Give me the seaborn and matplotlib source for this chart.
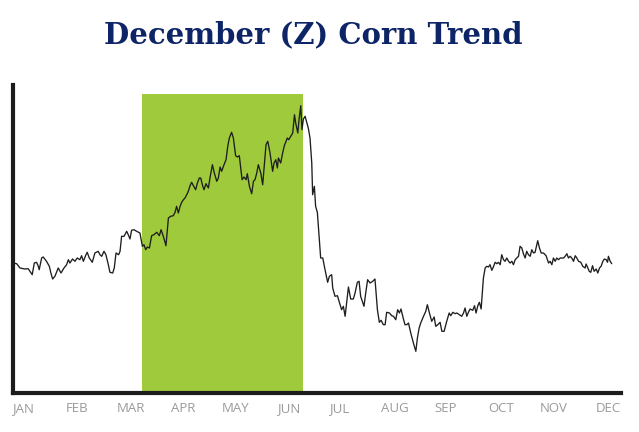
import numpy as np
import pandas as pd
import seaborn as sns
import matplotlib.pyplot as plt

# day of year / price (cents per bushel)
days = [9.4, 11.4, 13.3, 16.1, 18.0, 19.0, 20.3, 21.5, 22.8, 23.8, 24.3, 25.7, 26.6, 28.5, 30.1, 31.0,
        32.0, 33.3, 35.2, 36.8, 38.5, 40.0, 41.0, 41.9, 43.4, 44.8, 46.1, 47.6, 48.6, 49.6, 51.1, 51.8,
        53.0, 54.7, 56.2, 58.1, 59.1, 60.1, 61.4, 62.5, 63.9, 64.8, 66.4, 67.3, 68.3, 69.8, 70.6, 71.5,
        72.9, 74.4, 75.3, 76.3, 77.2, 78.6, 80.1, 82.0, 83.4, 84.3, 85.3, 86.2, 87.4, 88.7, 90.0, 91.6,
        93.1, 94.1, 95.4, 96.9, 98.3, 99.6, 101.1, 102.1, 103.0, 104.0, 105.0, 105.9, 106.9, 107.8, 108.8,
        109.7, 110.7, 111.6, 112.6, 113.9, 114.9, 116.0, 116.8, 117.9, 118.7, 119.8, 121.2, 122.1, 123.5,
        124.6, 126.0, 126.9, 127.9, 128.8, 129.8, 131.3, 132.3, 133.2, 134.5, 135.5, 136.8, 137.8, 138.9,
        139.7, 140.5, 141.6, 142.8, 143.5, 144.7, 146.0, 147.0, 147.9, 148.9, 149.8, 151.2, 152.3, 153.3,
        154.2, 155.2, 156.5, 158.0, 158.8, 159.8, 160.7, 161.3, 162.6, 163.8, 164.7, 165.7, 166.4, 167.2,
        168.4, 169.5, 170.5, 171.2, 172.4, 173.1, 174.1, 174.8, 175.6, 176.6, 177.1, 178.4, 179.4, 180.4,
        180.9, 181.9, 182.6, 183.6, 184.6, 185.5, 186.7, 188.0, 189.5, 190.5, 191.8, 192.4, 193.7, 195.1,
        196.2, 197.5, 198.5, 199.5, 200.4, 201.4, 202.7, 204.2, 205.2, 206.5, 207.5, 208.4, 210.3, 211.3,
        212.4, 213.8, 215.3, 216.6, 218.0, 219.1, 220.1, 221.4, 222.4, 223.3, 224.9, 226.2, 227.2, 228.5,
        229.6, 230.6, 231.5, 232.9, 233.8, 234.8, 235.8, 237.1, 238.6, 240.0, 240.9, 241.9, 242.8, 244.4,
        245.7, 246.6, 247.8, 249.1, 250.5, 251.4, 252.6, 253.9, 254.9, 256.2, 257.7, 259.1, 260.0, 261.2,
        262.5, 263.5, 265.0, 266.3, 267.3, 268.2, 269.2, 270.1, 271.1, 272.6, 273.6, 274.5, 275.5, 276.4,
        277.4, 278.7, 279.7, 280.6, 281.6, 282.5, 283.5, 284.4, 285.4, 286.4, 287.3, 288.3, 289.2, 290.2,
        291.1, 292.1, 293.1, 294.0, 295.0, 295.9, 296.9, 297.8, 298.8, 299.7, 300.7, 301.6, 302.6, 303.5,
        304.5, 305.5, 306.4, 307.4, 308.3, 309.3, 309.8, 310.8, 311.8, 313.1, 314.6, 316.0, 316.9, 317.9,
        318.8, 319.8, 320.7, 321.7, 322.7, 324.6, 325.5, 326.5, 327.4, 328.4, 329.3, 330.3, 331.3, 332.2,
        333.2, 334.5, 335.6, 337.0, 337.5, 338.3, 339.3, 340.2, 341.2, 342.1, 343.3, 344.2, 345.2, 346.1,
        347.1, 348.0, 349.0, 349.8, 350.3, 351.3, 352.2]

price = [430, 429.3, 425, 424, 424.3, 421.7, 418.3, 430, 430.7, 426.7, 423.3, 435, 436, 431.7, 426.7, 420,
         414, 416.7, 425, 420, 425, 428.3, 433.3, 430, 434, 431.7, 435, 433.3, 437.3, 431.7, 438.3, 440.7,
         435, 430.7, 440, 441.7, 438.3, 436.7, 441.7, 438.3, 428.3, 420.7, 420, 425, 440, 438.3, 441.7, 456.7,
         456.7, 461.7, 458.3, 454, 462.7, 463.3, 461.7, 460, 446.7, 448.3, 443.3, 446, 445, 457.3, 458.3, 460.7,
         457.3, 463.3, 456.7, 447.3, 475, 476.7, 477.3, 480.7, 486.7, 480, 486.7, 490.7, 493.3, 495, 498.3,
         501.7, 507.3, 510.7, 507.3, 503.3, 510, 515, 515, 507.3, 503.3, 509.3, 505, 515, 528.3,
         520, 511.7, 515, 526, 521.7, 526.7, 533.3, 546.7, 555, 560.7, 555, 537.3, 536, 537.3,
         525, 513.3, 516, 513.3, 519.3, 506.7, 499.3, 511.7, 513.3, 520, 528.3, 520, 508.3, 530,
         548.3, 551.7, 540, 521.7, 530, 533.3, 525, 535, 530, 540.7, 547.3, 551.7, 555, 553.3,
         556.7, 560, 578.3, 570, 560, 573.3, 587.3, 563.3, 574, 576.7, 573.3, 565, 555, 530,
         498.3, 506.7, 486.7, 480.7, 456.7, 435, 435, 423.3, 410.7, 416.7, 418.3, 405, 396.7, 397.3,
         390.7, 383.3, 386.7, 376.7, 390.7, 406, 394, 394, 400, 410.7, 411.7, 396.7, 386.7, 400,
         413.3, 410, 411.7, 414, 383.3, 370.7, 372.7, 368.3, 368.3, 380.7, 380, 377.3, 376.7, 373.3,
         383.3, 380, 384, 374, 368.3, 368.3, 370, 360, 350, 341.7, 355, 365, 370, 376.7,
         381.7, 388.3, 380, 371.7, 376, 366.7, 368.3, 370.7, 361.7, 361.7, 371.7, 380, 377.3, 380.7,
         379.3, 380, 378.3, 376.7, 380, 385, 376.7, 380.7, 384, 382.7, 387.3, 380, 387.3, 390.7,
         384, 415, 425, 426.7, 426, 428.3, 422.7, 426, 430.7, 429.3, 430.7, 428.3, 438.3, 433.3,
         431.7, 435, 431.7, 430, 431.7, 428.3, 433.3, 435, 436.7, 446.7, 445, 439.3, 435, 441.7,
         438.3, 436.7, 443.3, 440, 440.7, 448.3, 452.3, 445, 440, 440, 437.3, 430, 431.7, 428.3,
         435, 431.7, 435, 433.3, 435, 435, 436.7, 439.3, 435, 436.7, 435, 431.7, 437.3, 435,
         431.7, 430.7, 426.7, 425, 429, 426, 421.7, 420.7, 427.3, 421.7, 424, 420, 425, 426.7,
         431.7, 434, 433.3, 430.7, 436.7, 431.7, 429.3]

month_labels = ["JAN", "FEB", "MAR", "APR", "MAY", "JUN", "JUL", "AUG", "SEP", "OCT", "NOV", "DEC"]
month_ticks = [15, 46, 77, 107, 137, 167, 196, 228, 257, 289, 319, 350]

# seasonal strength window (green band)
window_start, window_end = 83.2, 175.4

df = pd.DataFrame({"day": days, "price": price})

sns.set_style("white")
plt.rcParams["font.family"] = ["Open Sans", "DejaVu Sans"]

fig = plt.figure(figsize=(6.39, 4.32), dpi=100)
ax = fig.add_axes([13 / 639, 1 - 393 / 432, 608 / 639, 308 / 432])

ax.axvspan(window_start, window_end, ymin=0, ymax=299 / 308, color="#9fca3c", lw=0, zorder=0)
sns.lineplot(data=df, x="day", y="price", color="#1e1e1e", lw=0.95, ax=ax, zorder=2)

ax.set_xlim(9.3, 357.5)
ax.set_ylim(300, 608)
ax.set_xticks(month_ticks)
ax.set_xticklabels(month_labels, color="#9a9a9a", fontsize=9.5)
ax.set_yticks([])
ax.tick_params(axis="x", length=0, pad=6.5)
ax.set_xlabel("")
ax.set_ylabel("")

for side in ["top", "right"]:
    ax.spines[side].set_visible(False)
for side in ["left", "bottom"]:
    ax.spines[side].set_linewidth(3)
    ax.spines[side].set_color("#1c1c1c")
    ax.spines[side].set_capstyle("projecting")

fig.text(313 / 639, 1 - 35 / 432, "December (Z) Corn Trend", ha="center", va="center",
         fontsize=21, fontweight="bold", color="#0d2566", family=["DejaVu Serif"])

fig.savefig("out.png", dpi=100)
